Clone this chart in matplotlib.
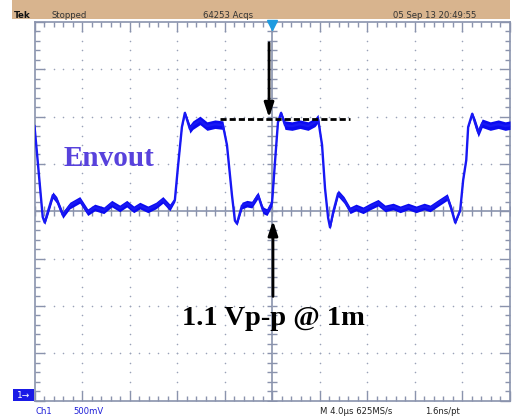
import numpy as np
import matplotlib.pyplot as plt
from matplotlib.patches import Rectangle

# scope trace (time in us, voltage in V above the ch1 ground marker)
t_us = [-20.0, -19.81, -19.56, -19.31, -19.14, -18.89, -18.46, -18.13, -17.62, -17.03,
        -16.19, -15.52, -14.93, -14.17, -13.50, -12.83, -12.24, -11.65, -11.14, -10.46,
        -9.79, -9.20, -8.61, -8.19, -7.94, -7.60, -7.35, -6.93, -6.68, -6.08,
        -5.49, -4.82, -4.15, -3.81, -3.39, -3.14, -2.97, -2.55, -2.13, -1.71,
        -1.20, -0.78, -0.44, -0.02, 0.23, 0.48, 0.74, 1.07, 1.66, 2.33,
        3.01, 3.60, 3.85, 4.19, 4.44, 4.70, 4.86, 5.12, 5.54, 6.04,
        6.55, 7.05, 7.64, 8.23, 8.90, 9.49, 10.17, 10.76, 11.43, 12.10,
        12.78, 13.28, 13.87, 14.72, 15.05, 15.39, 15.81, 16.06, 16.32, 16.48,
        16.82, 17.07, 17.33, 17.66, 18.34, 19.01, 19.60, 20.0]
env_v = [2.90, 2.64, 2.29, 1.94, 1.88, 1.99, 2.17, 2.12, 1.96, 2.06,
         2.12, 1.99, 2.04, 2.01, 2.08, 2.03, 2.08, 2.02, 2.06, 2.02,
         2.06, 2.12, 2.04, 2.12, 2.46, 2.89, 3.04, 2.87, 2.91, 2.96,
         2.90, 2.92, 2.91, 2.70, 2.17, 1.90, 1.87, 2.06, 2.08, 2.07,
         2.17, 2.01, 1.99, 2.09, 2.52, 2.94, 3.04, 2.91, 2.90, 2.92,
         2.90, 2.94, 2.98, 2.70, 2.24, 1.93, 1.83, 1.99, 2.19, 2.12,
         2.01, 2.04, 2.01, 2.05, 2.09, 2.03, 2.05, 2.02, 2.05, 2.02,
         2.05, 2.03, 2.08, 2.15, 2.03, 1.88, 2.01, 2.33, 2.54, 2.89,
         3.03, 2.93, 2.83, 2.93, 2.90, 2.92, 2.90, 2.91]
# half width of the noise band on the trace
env_noise = [0.01, 0.005, 0.005, 0.01, 0.02] + [0.035] * 18 + [0.02, 0.005, 0.01, 0.02] \
    + [0.045] * 6 + [0.005, 0.005, 0.01, 0.02] + [0.035] * 7 + [0.005, 0.01, 0.02] \
    + [0.045] * 6 + [0.005, 0.005, 0.01, 0.02] + [0.035] * 18 + [0.02, 0.01, 0.005, 0.005, 0.01, 0.02] \
    + [0.045] * 7

W, H = 514, 417
grat = '#8a93ad'
tan = '#d8b48e'
blue_txt = '#2020d8'

fig = plt.figure(figsize=(W / 100, H / 100), dpi=100)
fig.patch.set_facecolor('white')
ax = fig.add_axes([34.5 / W, 1 - 400.5 / H, (510 - 34.5) / W, (400.5 - 22) / H])
ax.set_xlim(-20, 20)
ax.set_ylim(0, 4)

# graticule
ax.set_xticks(np.arange(-20, 20.1, 4))
ax.set_xticks(np.arange(-20, 20.1, 0.8), minor=True)
ax.set_yticks(np.arange(0, 4.01, 0.5))
ax.set_yticks(np.arange(0, 4.01, 0.1), minor=True)
ax.tick_params(which='both', direction='in', top=True, right=True,
               labelbottom=False, labelleft=False, color=grat, width=1)
ax.tick_params(which='major', length=7)
ax.tick_params(which='minor', length=3.5)
for s in ax.spines.values():
    s.set_color(grat)
    s.set_linewidth(1.2)

ax.axhline(2, color=grat, lw=1.2, zorder=1)
ax.axvline(0, color=grat, lw=1.2, zorder=1)
ax.plot(np.zeros(41), np.arange(0, 4.01, 0.1), ls='none', marker='_', ms=7, mew=1, color=grat, zorder=1)
ax.plot(np.arange(-20, 20.1, 0.8), np.full(51, 2.0), ls='none', marker='|', ms=7, mew=1, color=grat, zorder=1)

for xv in [-16, -12, -8, -4, 4, 8, 12, 16]:
    yy = np.arange(0.1, 3.95, 0.1)
    ax.scatter(np.full(len(yy), xv), yy, s=1.3, color='#9aa2b8', lw=0, zorder=1)
for yv in [0.5, 1.0, 1.5, 2.5, 3.0, 3.5]:
    xx = np.arange(-19.2, 19.3, 0.8)
    ax.scatter(xx, np.full(len(xx), yv), s=1.3, color='#9aa2b8', lw=0, zorder=1)

# trigger position marker
ax.plot([0], [3.97], marker='v', ms=7, color='#1e9be0', clip_on=False, zorder=5)

# envelope trace
t = np.array(t_us)
v = np.array(env_v)
n = np.array(env_noise)
ax.fill_between(t, v - n, v + n, color='#0a0af0', lw=0, zorder=3)
ax.plot(t, v, color='#1818f4', lw=1.7, zorder=3)

# annotations
ax.plot([-4.40, 6.55], [2.98, 2.98], ls=(0, (2.2, 1.1)), lw=2, color='black', zorder=4)
ax.annotate('', xy=(-0.27, 2.99), xytext=(-0.27, 3.78),
            arrowprops=dict(arrowstyle='-|>,head_length=0.6,head_width=0.2', lw=2,
                            color='black', mutation_scale=14.4, shrinkA=0, shrinkB=0), zorder=4)
ax.annotate('', xy=(0.06, 1.90), xytext=(0.06, 1.10),
            arrowprops=dict(arrowstyle='-|>,head_length=0.6,head_width=0.2', lw=2,
                            color='black', mutation_scale=14.4, shrinkA=0, shrinkB=0), zorder=4)
ax.text(-17.55, 2.48, 'Envout', family='Liberation Serif', weight='bold', size=21,
        color='#5842dc', ha='left', va='baseline', zorder=4)
ax.text(-7.60, 0.80, '1.1 Vp-p @ 1m', family='Liberation Serif', weight='bold', size=20.5,
        color='black', ha='left', va='baseline', zorder=4)

# status bar on top
fig.add_artist(Rectangle((12 / W, 1 - 19 / H), 498 / W, 19 / H, transform=fig.transFigure,
                         facecolor=tan, edgecolor='none'))
top_y = 1 - 17.5 / H
fig.text(14 / W, top_y, 'Tek', size=6.3, weight='bold', color='#111111', va='baseline')
fig.text(51 / W, top_y, 'Stopped', size=6.1, color='#333333', va='baseline')
fig.text(203 / W, top_y, '64253 Acqs', size=6.1, color='#333333', va='baseline')
fig.text(393 / W, top_y, '05 Sep 13 20:49:55', size=6.1, color='#333333', va='baseline')

# channel ground marker and bottom readout
fig.add_artist(Rectangle((13 / W, 1 - 401 / H), 21 / W, 12 / H, transform=fig.transFigure,
                         facecolor='#1a1ae6', edgecolor='none'))
fig.text(23.5 / W, 1 - 395 / H, '1\u2192', size=6.5, color='white', ha='center', va='center')
bot_y = 1 - 413.5 / H
fig.text(35 / W, bot_y, 'Ch1', size=6.1, color=blue_txt, va='baseline')
fig.text(73 / W, bot_y, '500mV', size=6.1, color=blue_txt, va='baseline')
fig.text(320 / W, bot_y, 'M 4.0\u00b5s 625MS/s', size=6.1, color='#222222', va='baseline')
fig.text(425 / W, bot_y, '1.6ns/pt', size=6.1, color='#222222', va='baseline')

fig.savefig('out.png', dpi=100)
